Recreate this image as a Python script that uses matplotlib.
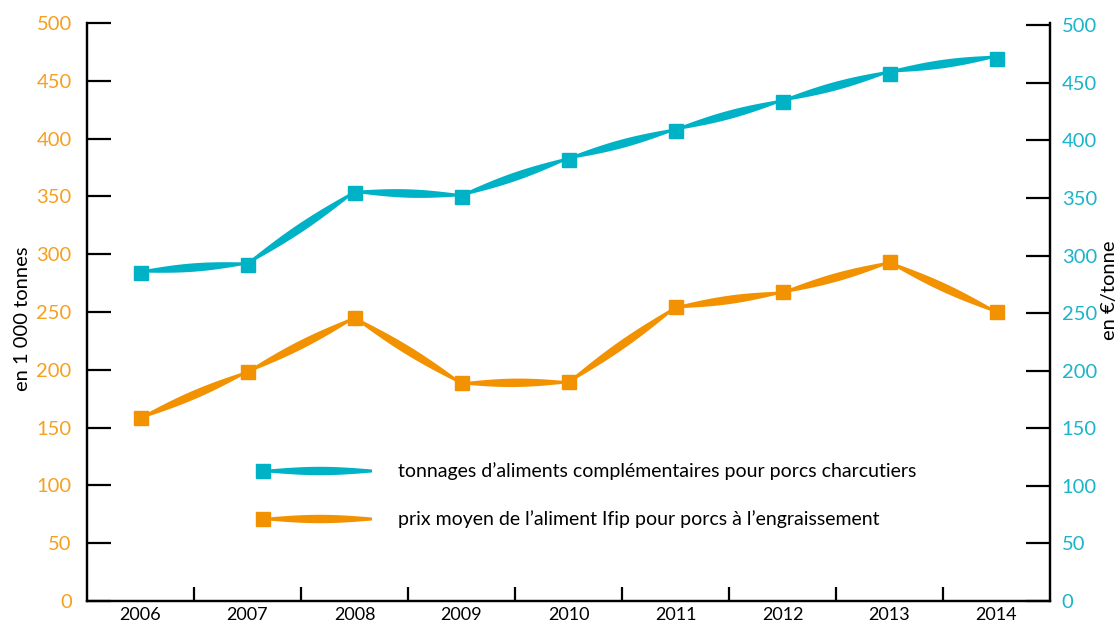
import numpy as np
import matplotlib.pyplot as plt
from matplotlib.patches import Polygon

plt.rcParams['font.family'] = ['Lato', 'DejaVu Sans']

years = ['2006', '2007', '2008', '2009', '2010', '2011', '2012', '2013', '2014']
tonnages = [285, 292, 354, 351, 383, 408, 433, 458, 471]
prix = [159, 199, 246, 189, 190, 255, 268, 294, 251]
yticks = [0, 50, 100, 150, 200, 250, 300, 350, 400, 450, 500]

lab_tonnes = "tonnages d\u2019aliments compl\u00e9mentaires pour porcs charcutiers"
lab_prix = "prix moyen de l\u2019aliment Ifip pour porcs \u00e0 l\u2019engraissement"

teal = '#00B2C6'
orange = '#F39200'
teal_txt = '#1AB4CB'
orange_txt = '#F5A01E'

fig = plt.figure(figsize=(11.19, 6.26), dpi=100)
ax = fig.add_axes([87 / 1119, 25 / 626, 963 / 1119, 578 / 626])
ax2 = ax.twinx()

x = np.arange(len(years))
ax.set_xlim(-0.5, len(years) - 0.5)
ax.set_ylim(0, 500)
ax2.set_ylim(0, 502)

for a in (ax, ax2):
    a.spines['top'].set_visible(False)
    for s in ('left', 'right', 'bottom'):
        a.spines[s].set_linewidth(1.6)
        a.spines[s].set_color('black')

ax.set_yticks(yticks)
ax.tick_params(axis='y', direction='in', length=17, width=1.6, pad=11,
               labelsize=14.5, labelcolor=orange_txt)
ax2.set_yticks(yticks)
ax2.tick_params(axis='y', direction='in', length=17, width=1.6, pad=8.5,
                labelsize=14.5, labelcolor=teal_txt)

ax.set_xticks(x)
ax.set_xticklabels(years)
# the reference crops the years at the bottom edge; keep them just inside
ax.tick_params(axis='x', which='major', length=0, pad=4.5, labelsize=13)
ax.set_xticks(x[:-1] + 0.5, minor=True)
ax.tick_params(axis='x', which='minor', direction='in', length=10, width=1.6)

fig.text(23 / 1119, 1 - 319 / 626, 'en 1 000 tonnes', rotation=90,
         ha='center', va='center', fontsize=14.5)
fig.text(1110 / 1119, 1 - 290 / 626, 'en \u20ac/tonne', rotation=90,
         ha='center', va='center', fontsize=14.5)


def leaf(p0, p1, color, hw=4.2, wmin=1.0, n=60):
    # lens-shaped stroke between two display points
    p0 = np.asarray(p0, float)
    p1 = np.asarray(p1, float)
    d = p1 - p0
    nrm = np.array([-d[1], d[0]]) / np.hypot(*d)
    t = np.linspace(0, 1, n)
    w = wmin + (hw - wmin) * np.sin(np.pi * t)
    c = p0 + t[:, None] * d
    poly = np.vstack([c + w[:, None] * nrm, (c - w[:, None] * nrm)[::-1]])
    poly = fig.transFigure.inverted().transform(poly)
    ax2.add_patch(Polygon(poly, closed=True, transform=fig.transFigure,
                          fc=color, ec='none', zorder=2))


fig.canvas.draw()

pts_t = ax.transData.transform(np.column_stack([x, tonnages]))
pts_p = ax2.transData.transform(np.column_stack([x, prix]))
for i in range(len(years) - 1):
    leaf(pts_t[i], pts_t[i + 1], teal)
    leaf(pts_p[i], pts_p[i + 1], orange)

ax2.plot(x, tonnages, 's', color=teal, ms=10.5, zorder=3, clip_on=False)
ax2.plot(x, prix, 's', color=orange, ms=10.5, zorder=3, clip_on=False)

# legend drawn by hand
for ypx, col, lab in ((471, teal, lab_tonnes), (519, orange, lab_prix)):
    yd = 626 - ypx
    leaf((268, yd), (372, yd), col, hw=4.2, wmin=1.5)
    fig.lines.append(plt.Line2D([263 / 1119], [yd / 626], marker='s', color=col,
                                ms=10.5, transform=fig.transFigure, zorder=3))
    fig.text(398 / 1119, yd / 626, lab, ha='left', va='center', fontsize=14)

fig.savefig('out.png', dpi=100)
